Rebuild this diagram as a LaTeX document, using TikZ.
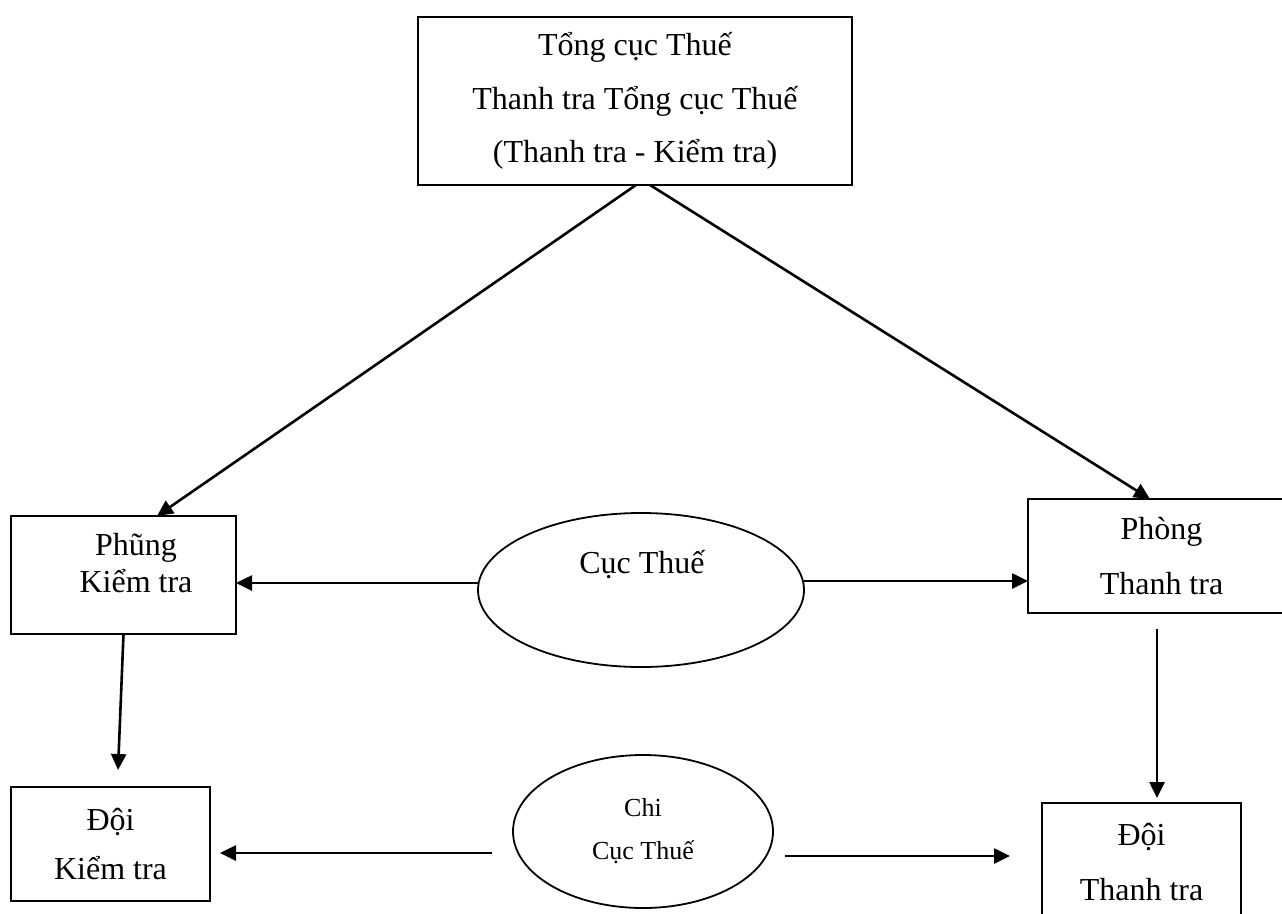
\documentclass[tikz,border=0pt]{standalone}
\usepackage{fontspec}
\setmainfont{Liberation Serif}
\usetikzlibrary{shapes.geometric,arrows.meta}
\begin{document}
\begin{tikzpicture}[x=1pt,y=-1pt,
  box/.style={draw,line width=2.2pt,rectangle,inner sep=0pt,outer sep=0pt,align=center},
  oval/.style={draw,line width=1.8pt,ellipse,inner sep=0pt,outer sep=0pt,align=center},
  txt/.style={inner sep=0pt,outer sep=0pt,align=center},
  arr/.style={line width=2.6pt,-{Triangle[length=16pt,width=15pt]}}]
\useasboundingbox (0,0) rectangle (1282,913);
\clip (0,0) rectangle (1282,913);

\node[box, minimum width=434pt, minimum height=168pt, font=\fontsize{32}{53.5}\selectfont] (top) at (635,101) {Tổng cục Thuế\\Thanh tra Tổng cục Thuế\\(Thanh tra - Kiểm tra)};

\node[box, minimum width=225pt, minimum height=118pt] (pk) at (123.5,575) {};
\node[txt, font=\fontsize{32}{37}\selectfont] (pkT) at (136,563.5) {Phũng\\Kiểm tra};

\node[box, minimum width=267pt, minimum height=114pt, font=\fontsize{32}{55}\selectfont] (pt) at (1161.5,556) {Phòng\\Thanh tra};

\node[box, minimum width=199pt, minimum height=114pt, font=\fontsize{32}{49}\selectfont] (dk) at (110.5,844) {Đội\\Kiểm tra};

\node[box, minimum width=199pt, minimum height=119pt, font=\fontsize{32}{55}\selectfont] (dt) at (1141.5,862.5) {Đội\\Thanh tra};

\node[oval, minimum width=326pt, minimum height=154pt] (ct) at (641,590) {};
\node[txt, font=\fontsize{32}{32}\selectfont] (ctT) at (642,565) {Cục Thuế};

\node[oval, minimum width=260pt, minimum height=153pt, font=\fontsize{26}{43}\selectfont] (cct) at (643,831.5) {Chi\\Cục Thuế};

% connectors
\draw[arr] ([xshift=1pt]top.south) -- ([xshift=33.5pt]pk.north);
\draw[arr] ([xshift=15pt]top.south) -- ([xshift=-11.5pt]pt.north);
\draw[arr] ([yshift=7pt]ct.west) -- ([yshift=7pt]ct.west -| pk.east);
\draw[arr] ([yshift=9pt]ct.east) -- ([yshift=9pt]ct.east -| pt.west);
\draw[arr] (pk.south) -- ([xshift=7.5pt,yshift=17pt]dk.north);
\draw[arr] ([xshift=-4.5pt,yshift=-16pt]pt.south) -- ([xshift=15.5pt,yshift=5pt]dt.north);
\draw[arr] ([xshift=-21pt,yshift=-21.5pt]cct.west) -- ([xshift=10pt,yshift=-9pt]dk.east);
\draw[arr] ([xshift=12pt,yshift=-24.5pt]cct.east) -- ([xshift=-32pt,yshift=6.5pt]dt.west);
\end{tikzpicture}
\end{document}
